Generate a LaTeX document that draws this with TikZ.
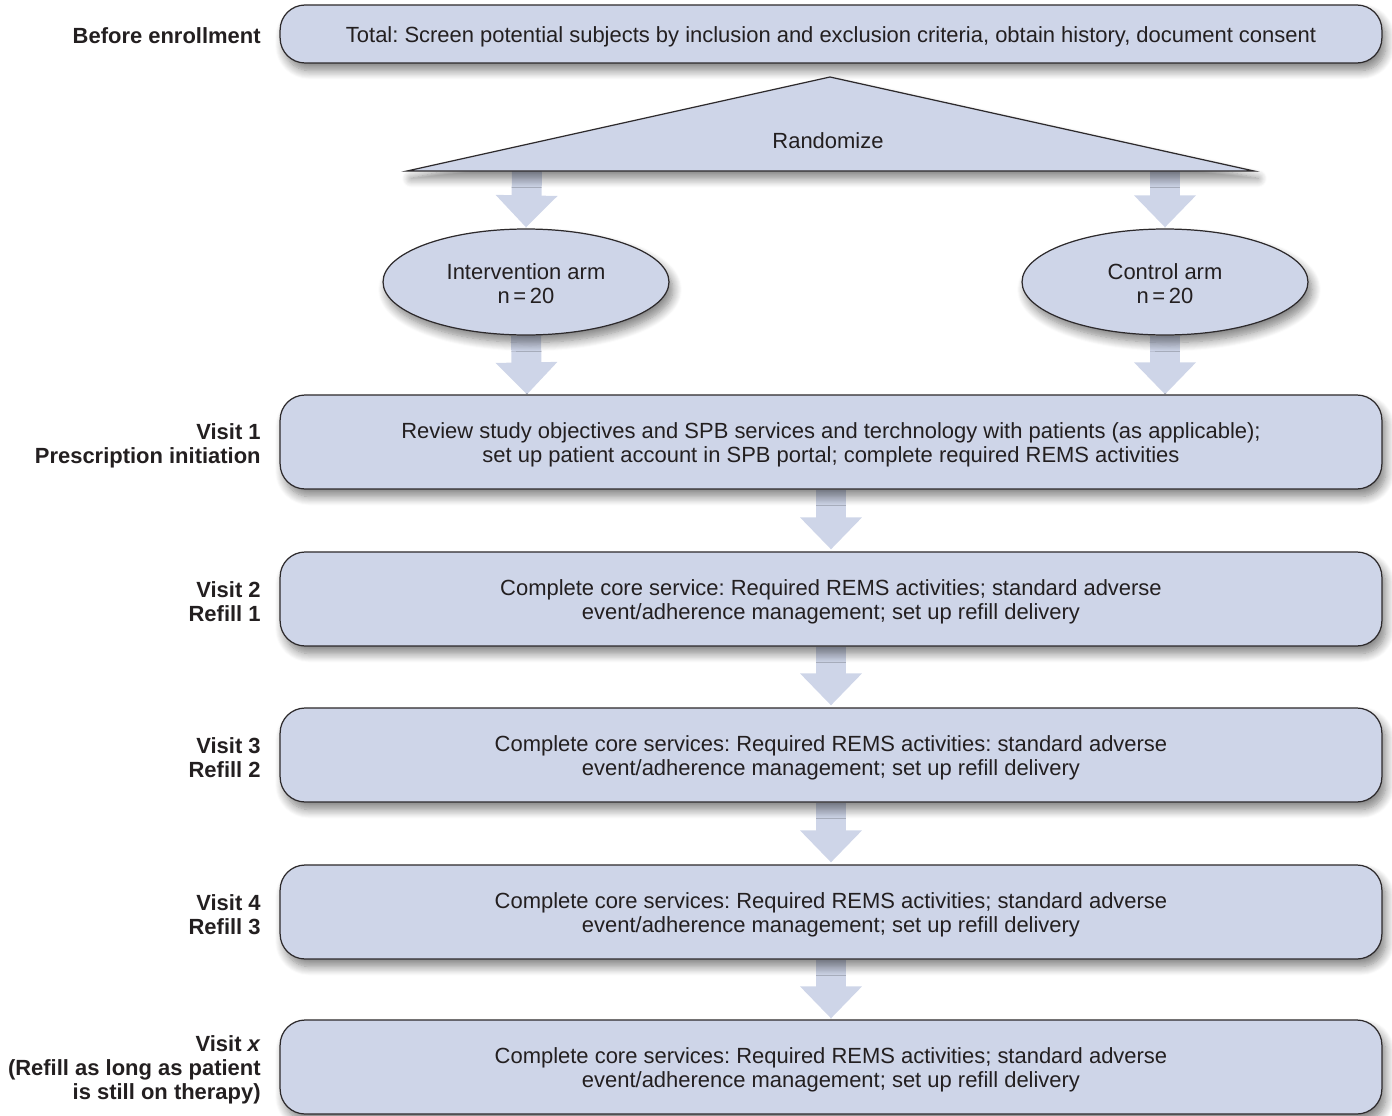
\documentclass[tikz,border=0pt]{standalone}
\usepackage{fontspec}
\setmainfont{Liberation Sans}
\usetikzlibrary{shapes.geometric,shadows.blur,arrows.meta}
\definecolor{boxfill}{RGB}{206,213,232}
\definecolor{boxline}{RGB}{45,42,44}
\definecolor{txt}{RGB}{35,31,32}
\pgfdeclarelayer{background}
\pgfsetlayers{background,main}
\frenchspacing
\tikzset{
  shad/.style={blur shadow={shadow xshift=0.08cm, shadow yshift=-0.15cm, shadow blur radius=0.18cm, shadow blur steps=10, shadow opacity=50}},
  rbox/.style={draw=boxline, line width=0.7pt, fill=boxfill, rounded corners=0.5cm, minimum width=22.04cm, minimum height=1.88cm, inner sep=0pt, shad},
  btext/.style={align=center, text=txt, inner sep=0pt},
  armnode/.style={ellipse, draw=boxline, line width=0.7pt, fill=boxfill, minimum width=5.72cm, minimum height=2.12cm, inner sep=0pt, shad},
  lbl/.style={anchor=east, align=right, font=\fontsize{12.5}{13.6}\selectfont\bfseries, text=txt, inner sep=0pt},
  bigarrow/.style={draw=boxfill, line width=0.6cm, line cap=butt, -{Triangle[width=1.2cm,length=0.64cm]}}
}
\begin{document}
\begin{tikzpicture}[x=0.02cm,y=-0.02cm, every node/.style={font=\fontsize{12.5}{13.6}\selectfont}]
\useasboundingbox (0,0) rectangle (1392,1115);
% top box
\node[rbox, minimum height=1.16cm] (total) at (831,34) {};
\node[btext] (totalt) at (831,37) {Total: Screen potential subjects by inclusion and exclusion criteria, obtain history, document consent};
\node[lbl] (lbl0) at (261,36) {Before enrollment};
% triangle
\path[draw=boxline, line width=0.7pt, fill=boxfill, line join=miter, shad] (830,77) -- (1254,171) -- (407,171) -- cycle;
\node[text=txt] (rand) at (828,141) {Randomize};
\coordinate (randL) at (527,171);
\coordinate (randR) at (1165,171);
% arms
\node[armnode] (int) at (526,282) {};
\node[btext] (intt) at (526,284) {Intervention arm\\n\,=\,20};
\node[armnode] (ctl) at (1165,282) {};
\node[btext] (ctlt) at (1165,284) {Control arm\\n\,=\,20};
% visits
\node[rbox] (v1) at (831,442) {};
\node[btext] (v1t) at (831,445) {Review study objectives and SPB services and terchnology with patients (as applicable);\\set up patient account in SPB portal; complete required REMS activities};
\node[rbox] (v2) at (831,599) {};
\node[btext] (v2t) at (831,602) {Complete core service: Required REMS activities; standard adverse\\event/adherence management; set up refill delivery};
\node[rbox] (v3) at (831,755) {};
\node[btext] (v3t) at (831,758) {Complete core services: Required REMS activities: standard adverse\\event/adherence management; set up refill delivery};
\node[rbox] (v4) at (831,912) {};
\node[btext] (v4t) at (831,915) {Complete core services: Required REMS activities; standard adverse\\event/adherence management; set up refill delivery};
\node[rbox] (vx) at (831,1067) {};
\node[btext] (vxt) at (831,1070) {Complete core services: Required REMS activities; standard adverse\\event/adherence management; set up refill delivery};
% labels
\node[lbl] (l1) at (261,446) {Visit 1\\Prescription initiation};
\node[lbl] (l2) at (261,602) {Visit 2\\Refill 1};
\node[lbl] (l3) at (261,758) {Visit 3\\Refill 2};
\node[lbl] (l4) at (261,915) {Visit 4\\Refill 3};
\node[lbl] (lx) at (261,1070) {Visit \textit{x}\\(Refill as long as patient\\is still on therapy)};
% arrows
\begin{pgfonlayer}{background}
\draw[bigarrow] (randL) -- ([yshift=0.02cm]int.north);
\draw[bigarrow] (randR) -- ([yshift=0.02cm]ctl.north);
\draw[bigarrow] (int.south) -- ([xshift=-304*0.02cm]v1.north);
\draw[bigarrow] (ctl.south) -- ([xshift=334*0.02cm]v1.north);
\draw[bigarrow] (v1.south) -- ([yshift=0.04cm]v2.north);
\draw[bigarrow] (v2.south) -- ([yshift=0.04cm]v3.north);
\draw[bigarrow] (v3.south) -- ([yshift=0.04cm]v4.north);
\draw[bigarrow] (v4.south) -- ([yshift=0.02cm]vx.north);
\end{pgfonlayer}
\end{tikzpicture}
\end{document}
